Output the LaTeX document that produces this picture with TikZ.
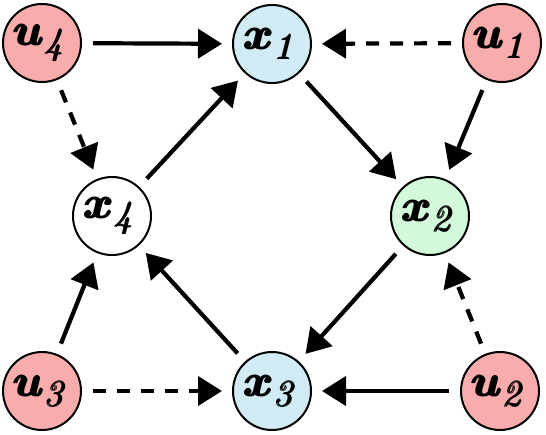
\documentclass[tikz,border=0pt]{standalone}
\usepackage{amsmath}
\usepackage{bm}
\usetikzlibrary{arrows.meta}
\definecolor{upink}{HTML}{F8ACAC}
\definecolor{xblue}{HTML}{D0EBF4}
\definecolor{xgreen}{HTML}{D4F9DA}
\tikzset{
  vnode/.style={circle, draw=black, line width=2pt, minimum size=78pt, inner sep=0pt},
  unode/.style={vnode, fill=upink},
  conn/.style={line width=4.2pt, shorten >=10pt, shorten <=11pt,
    -{Triangle[length=24pt, width=29pt]}},
  dconn/.style={conn, dash pattern=on 13pt off 11pt},
}
\newcommand{\lab}[2]{\scalebox{3.15}{\Large$\pmb{\bm{#1}}_{\scalebox{0.82}{$\textstyle\pmb{\mathit{#2}}$}}$}}
\begin{document}
\begin{tikzpicture}[x=1pt,y=-1pt]
\useasboundingbox (0,0) rectangle (546,434);
\node[unode] (u4) at (42,43) {\lab{u}{4}};
\node[vnode, fill=xblue] (x1) at (272,44) {\lab{x}{1}};
\node[unode] (u1) at (502,43) {\lab{u}{1}};
\node[vnode, fill=white] (x4) at (112,216) {\lab{x}{4}};
\node[vnode, fill=xgreen] (x2) at (430,216) {\lab{x}{2}};
\node[unode] (u3) at (42,391) {\lab{u}{3}};
\node[vnode, fill=xblue] (x3) at (272,391) {\lab{x}{3}};
\node[unode] (u2) at (500,391) {\lab{u}{2}};
\draw[conn] (u4) -- (x1);
\draw[dconn] (u1) -- (x1);
\draw[dconn] (u4) -- (x4);
\draw[conn] (u1) -- (x2);
\draw[conn] (x1) -- (x2);
\draw[conn] (x4) -- (x1);
\draw[conn] (x2) -- (x3);
\draw[conn] (x3) -- (x4);
\draw[conn] (u3) -- (x4);
\draw[dconn] (u2) -- (x2);
\draw[dconn] (u3) -- (x3);
\draw[conn] (u2) -- (x3);
\end{tikzpicture}
\end{document}
